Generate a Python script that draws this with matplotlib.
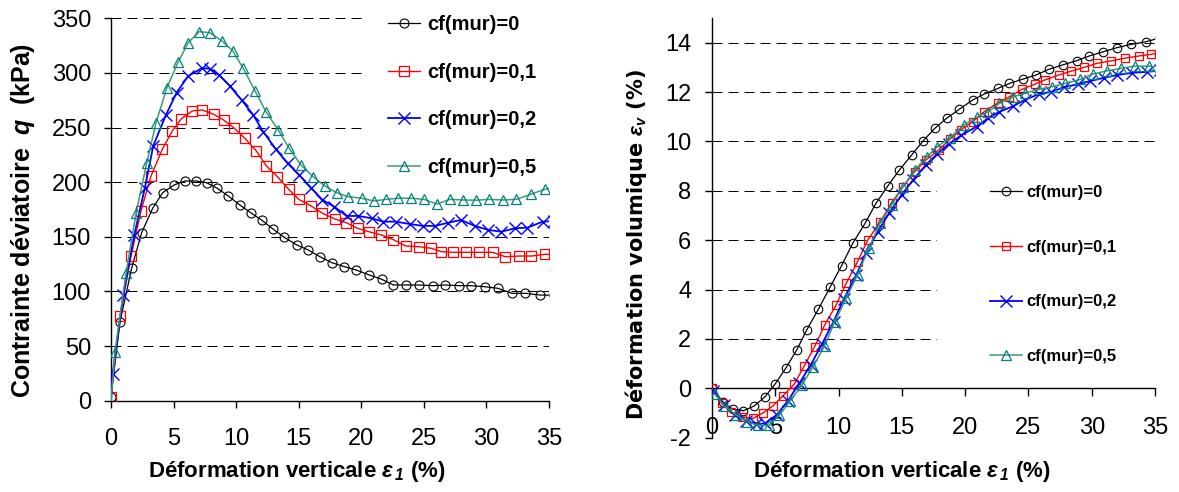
import matplotlib
matplotlib.use('Agg')
import matplotlib.pyplot as plt
from matplotlib.patches import Rectangle

# ---------------- data ----------------
labels = ['cf(mur)=0', 'cf(mur)=0,1', 'cf(mur)=0,2', 'cf(mur)=0,5']

# Left chart: deviatoric stress q (kPa) vs axial strain (%)
q_x_0 = [0, 0.72, 1.65, 2.45, 3.33, 4.13, 5.03, 5.91, 6.79, 7.64, 8.49, 9.37, 10.3, 11.16, 12.03,
         12.97, 13.84, 14.83, 15.76, 16.69, 17.63, 18.64, 19.57, 20.63, 21.62, 22.55, 23.6, 24.6,
         25.7, 26.7, 27.8, 28.8, 29.9, 30.9, 32.05, 33.1, 34.3, 35.4]
q_y_0 = [3.7, 72.3, 121.2, 153.8, 176.1, 190.4, 197.4, 201.1, 201.1, 199.5, 194.4, 187.4, 179.1,
         172.1, 165.4, 156.9, 149.6, 142.6, 138.0, 131.8, 126.4, 122.7, 119.7, 115.1, 111.2, 106.0,
         105.9, 105.9, 105.3, 105.9, 105.3, 105.3, 104.3, 102.9, 98.3, 98.3, 96.7, 96.5]

q_x_1 = [0, 0.72, 1.6, 2.4, 3.2, 4.1, 4.9, 5.6, 6.5, 7.3, 8.2, 9.0, 9.8, 10.7, 11.6, 12.4, 13.3,
         14.2, 15.0, 16.0, 16.9, 17.9, 18.8, 19.7, 20.6, 21.6, 22.55, 23.56, 24.6, 25.6, 26.4, 27.3,
         28.4, 29.4, 30.5, 31.5, 32.6, 33.6, 34.7, 35.4]
q_y_1 = [3.7, 77.5, 132.4, 173.9, 205.7, 230.1, 246.9, 257.8, 265.2, 266.1, 262.1, 256.9, 249.9,
         240.2, 228.8, 215.1, 205.0, 193.5, 184.3, 178.2, 171.5, 166.3, 162.9, 157.8, 154.7, 151.7,
         147.5, 141.6, 141.0, 139.5, 136.4, 135.8, 135.8, 135.8, 135.8, 131.8, 132.4, 132.4, 134.0,
         134.0]

q_x_2 = [0, 0.13, 0.98, 1.86, 2.71, 3.38, 4.39, 5.24, 6.17, 7.24, 7.9, 8.65, 9.5, 10.44, 11.37,
         12.16, 13.18, 14.11, 15.04, 15.97, 16.9, 17.84, 18.82, 19.75, 20.82, 21.75, 22.75, 23.88,
         24.9, 25.9, 26.94, 27.96, 29.07, 30.14, 31.2, 32.27, 33.28, 34.5, 35.4]
q_y_2 = [0, 24.4, 96.7, 151.7, 195.0, 233.4, 261.5, 281.9, 297.2, 304.2, 304.0, 298.1, 288.0, 275.2,
         261.5, 246.2, 230.1, 217.3, 206.6, 195.0, 183.7, 177.6, 169.1, 169.1, 167.0, 163.9, 163.9,
         161.7, 160.0, 160.0, 162.9, 165.4, 160.0, 156.3, 154.7, 157.8, 158.4, 163.9, 164.5]

q_x_5 = [0, 0.32, 1.2, 2.0, 2.85, 3.6, 4.45, 5.38, 6.17, 7.05, 7.9, 8.84, 9.72, 10.57, 11.5, 12.38,
         13.36, 14.24, 15.18, 16.16, 17.09, 18.03, 18.95, 20.02, 21.03, 21.98, 22.95, 24.0, 25.0,
         26.06, 27.08, 28.14, 29.2, 30.2, 31.33, 32.4, 33.6, 34.66, 35.4]
q_y_5 = [0, 44.9, 116.6, 171.5, 217.3, 254.5, 286.0, 310.3, 327.7, 337.8, 336.8, 329.5, 320.4, 304.2,
         283.7, 264.5, 247.8, 231.0, 215.7, 205.0, 196.5, 190.4, 186.7, 185.3, 182.8, 184.3, 185.3,
         185.3, 184.3, 180.0, 184.3, 183.7, 183.5, 184.3, 183.7, 184.3, 189.2, 193.5, 195.0]

# Right chart: volumetric strain (%) vs axial strain (%)
v_x_0 = [0, 0.85, 1.63, 2.48, 3.32, 4.19, 4.98, 5.85, 6.69, 7.48, 8.40, 9.32, 10.24, 11.11, 12.09,
         12.95, 13.88, 14.8, 15.77, 16.69, 17.6, 18.54, 19.53, 20.6, 21.5, 22.6, 23.5, 24.6, 25.6,
         26.6, 27.7, 28.8, 29.8, 30.9, 32.0, 33.1, 34.3, 35.4]
v_y_0 = [0, -0.54, -0.85, -0.91, -0.72, -0.34, 0.17, 0.83, 1.55, 2.36, 3.2, 4.09, 4.97, 5.87, 6.68,
         7.49, 8.19, 8.84, 9.45, 10.03, 10.53, 10.94, 11.3, 11.68, 11.92, 12.15, 12.35, 12.53, 12.69,
         12.92, 13.1, 13.27, 13.46, 13.63, 13.8, 13.93, 14.04, 14.2]

v_x_1 = [0, 0.76, 1.5, 2.35, 3.2, 4.0, 4.8, 5.6, 6.5, 7.3, 8.1, 8.9, 9.8, 10.6, 11.5, 12.3, 13.3,
         14.2, 15.1, 16.0, 16.9, 17.9, 18.8, 19.65, 20.6, 21.5, 22.6, 23.5, 24.5, 25.5, 26.3, 27.4,
         28.4, 29.4, 30.4, 31.5, 32.6, 33.7, 34.7, 35.4]
v_y_1 = [0, -0.61, -0.95, -1.15, -1.22, -1.01, -0.72, -0.31, 0.17, 0.92, 1.68, 2.56, 3.37, 4.25,
         5.13, 6.0, 6.75, 7.52, 8.17, 8.77, 9.25, 9.65, 10.09, 10.47, 10.8, 11.2, 11.57, 11.81, 12.11,
         12.32, 12.49, 12.69, 12.85, 13.0, 13.16, 13.26, 13.37, 13.46, 13.53, 13.58]

v_x_2 = [0.1, 0.97, 1.8, 2.7, 3.5, 4.2, 5.1, 6.0, 6.9, 7.8, 8.7, 9.6, 10.4, 11.4, 12.2, 13.1, 14.0,
         15.0, 15.9, 16.9, 17.8, 18.7, 19.7, 20.9, 21.8, 22.7, 23.8, 24.7, 25.8, 26.8, 27.8, 28.9,
         29.9, 31.0, 32.0, 33.2, 34.4, 35.4]
v_y_2 = [-0.1, -0.68, -1.08, -1.31, -1.45, -1.42, -1.08, -0.5, 0.2, 0.95, 1.8, 2.7, 3.6, 4.6, 5.5,
         6.35, 7.1, 7.85, 8.45, 9.05, 9.5, 9.9, 10.25, 10.6, 10.94, 11.2, 11.43, 11.68, 11.91, 12.01,
         12.19, 12.32, 12.45, 12.58, 12.69, 12.78, 12.82, 12.88]

v_x_5 = [0.25, 1.0, 1.9, 2.8, 3.6, 4.5, 5.3, 6.2, 7.1, 8.0, 8.9, 9.7, 10.6, 11.5, 12.4, 13.3, 14.2,
         15.1, 16.0, 17.0, 17.8, 18.8, 19.9, 20.9, 21.8, 22.7, 23.8, 24.7, 25.8, 26.9, 27.9, 29.1,
         30.1, 31.2, 32.3, 33.4, 34.5, 35.4]
v_y_5 = [-0.25, -0.72, -1.08, -1.35, -1.5, -1.5, -1.1, -0.5, 0.13, 0.88, 1.73, 2.7, 3.64, 4.6, 5.7,
         6.7, 7.43, 8.17, 8.84, 9.39, 9.79, 10.15, 10.67, 10.98, 11.2, 11.54, 11.81, 11.95, 12.11,
         12.22, 12.35, 12.51, 12.73, 12.86, 12.96, 13.05, 13.05, 13.0]

x_ticks = [0, 5, 10, 15, 20, 25, 30, 35]
q_ticks = [0, 50, 100, 150, 200, 250, 300, 350]
v_ticks = [-2, 0, 2, 4, 6, 8, 10, 12, 14]

# ---------------- style ----------------
plt.rcParams['font.family'] = ['Liberation Sans', 'DejaVu Sans']
plt.rcParams['axes.unicode_minus'] = False
plt.rcParams['mathtext.fontset'] = 'custom'
plt.rcParams['mathtext.it'] = 'Liberation Sans:italic:bold'
plt.rcParams['mathtext.rm'] = 'Liberation Sans:italic:bold'
plt.rcParams['mathtext.bf'] = 'Liberation Sans:italic:bold'

W, H, DPI = 1179, 492, 100
fig = plt.figure(figsize=(W / DPI, H / DPI), dpi=DPI)
fig.patch.set_facecolor('white')


def axes_px(x0, x1, ytop, ybot):
    return fig.add_axes([x0 / W, 1 - ybot / H, (x1 - x0) / W, (ybot - ytop) / H])


styles = [
    dict(color='black', lw=0.9, marker='o', mfc='none', mec='black', ms=6.5, mew=0.8),
    dict(color='#FF0000', lw=1.0, marker='s', mfc='none', mec='#FF0000', ms=6.8, mew=0.9),
    dict(color='#0000FF', lw=1.3, marker='x', mec='#0000FF', ms=8.5, mew=1.0),
    dict(color='#3C9D6E', lw=1.1, marker='^', mfc='none', mec='#008080', ms=7.2, mew=0.9),
]

DASH = (10, 6)


def style_grid(ax, ticks):
    for t in ticks:
        ax.axhline(t, color='black', lw=0.72, dashes=DASH, zorder=1.0)


# ---------------- left chart ----------------
axL = axes_px(111, 549, 18.3, 400.7)
axL.set_xlim(0, 35)
axL.set_ylim(0, 350)
style_grid(axL, q_ticks[1:])
axL.add_patch(Rectangle((0.584, 0.545), 0.5, 0.5, transform=axL.transAxes,
                        facecolor='white', edgecolor='none', zorder=1.5))
linesL = []
for xs, ys, st, lab in zip([q_x_0, q_x_1, q_x_2, q_x_5], [q_y_0, q_y_1, q_y_2, q_y_5], styles, labels):
    mk = list(range(1, len(xs))) if ys[0] == 0 else None
    ln, = axL.plot(xs, ys, label=lab, markevery=mk, zorder=3, **st)
    linesL.append(ln)
axL.set_xticks(x_ticks)
axL.set_yticks(q_ticks)
for s in ['top', 'right']:
    axL.spines[s].set_visible(False)
for s in ['left', 'bottom']:
    axL.spines[s].set_linewidth(1.0)
axL.tick_params(axis='x', direction='out', length=5, width=1.0, pad=15, labelsize=17)
axL.tick_params(axis='y', direction='out', length=5, width=1.0, pad=9.4, labelsize=17)

legL = axL.legend(handles=linesL, loc='upper left',
                  bbox_to_anchor=(388 / W, 1 - 15 / H), bbox_transform=fig.transFigure,
                  frameon=False, borderpad=0, borderaxespad=0, numpoints=1,
                  handlelength=1.6, handletextpad=0.35, labelspacing=1.42,
                  prop={'family': 'Liberation Sans', 'weight': 'bold', 'size': 14.5})

fig.text(297 / W, 1 - 472 / H, 'Déformation verticale $ε_{\\,1}$ (%)', ha='center', va='center',
         fontsize=16, fontweight='bold')
fig.text(23 / W, 1 - 220 / H, 'Contrainte déviatoire  $q$  (kPa)', ha='center', va='center',
         rotation=90, fontsize=18, fontweight='bold')

# ---------------- right chart ----------------
axR = axes_px(712, 1155, 18, 437.7)
axR.set_xlim(0, 35)
axR.set_ylim(-2, 15)
style_grid(axR, [t for t in v_ticks if t != 0])
axR.add_patch(Rectangle((0.508, 0.1375), 0.6, 0.548, transform=axR.transAxes,
                        facecolor='white', edgecolor='none', zorder=1.5))
linesR = []
for xs, ys, st, lab in zip([v_x_0, v_x_1, v_x_2, v_x_5], [v_y_0, v_y_1, v_y_2, v_y_5], styles, labels):
    st2 = dict(st)
    st2['ms'] = st['ms'] * 0.95
    ln, = axR.plot(xs, ys, label=lab, zorder=3, **st2)
    linesR.append(ln)
axR.set_xticks(x_ticks)
axR.set_yticks(v_ticks)
for s in ['top', 'right']:
    axR.spines[s].set_visible(False)
axR.spines['bottom'].set_position(('data', 0))
for s in ['left', 'bottom']:
    axR.spines[s].set_linewidth(1.0)
axR.tick_params(axis='x', direction='out', length=6, width=1.0, pad=14.5, labelsize=17)
axR.tick_params(axis='y', direction='out', length=5, width=1.0, pad=10, labelsize=17)

legR = axR.legend(handles=linesR, loc='upper left',
                  bbox_to_anchor=(990 / W, 1 - 185 / H), bbox_transform=fig.transFigure,
                  frameon=False, borderpad=0, borderaxespad=0, numpoints=1,
                  handlelength=1.9, handletextpad=0.3, labelspacing=2.38,
                  prop={'family': 'Liberation Sans', 'weight': 'bold', 'size': 12})

fig.text(902 / W, 1 - 472 / H, 'Déformation verticale $ε_{\\,1}$ (%)', ha='center', va='center',
         fontsize=16, fontweight='bold')
fig.text(636 / W, 1 - 245 / H, 'Déformation volumique $ε_{v}$ (%)', ha='center', va='center',
         rotation=90, fontsize=15, fontweight='bold', family=['DejaVu Sans'])

fig.savefig('out.png', dpi=DPI, facecolor='white')
